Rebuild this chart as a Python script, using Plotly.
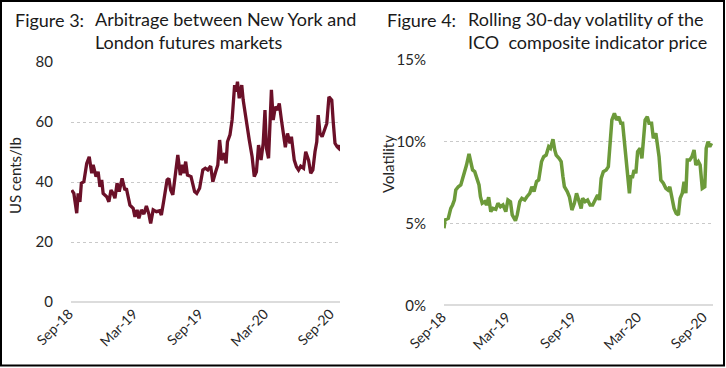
import plotly.graph_objects as go

# ---- Figure 3 data: arbitrage NY - London (US cents/lb)
arb_dates = ["2018-09-03","2018-09-09","2018-09-17","2018-09-21","2018-09-26","2018-09-30","2018-10-07","2018-10-15","2018-10-22","2018-10-29",
 "2018-11-02","2018-11-10","2018-11-16","2018-11-21","2018-11-26","2018-11-30","2018-12-10","2018-12-16","2018-12-22","2018-12-28",
 "2019-01-02","2019-01-08","2019-01-14","2019-01-22","2019-01-30","2019-02-03","2019-02-13","2019-02-22","2019-02-27","2019-03-05",
 "2019-03-10","2019-03-17","2019-03-24","2019-03-31","2019-04-07","2019-04-12","2019-04-19","2019-04-28","2019-05-07","2019-05-12",
 "2019-05-19","2019-05-28","2019-06-02","2019-06-07","2019-06-13","2019-06-20","2019-06-27","2019-07-04","2019-07-10","2019-07-14",
 "2019-07-19","2019-07-24","2019-08-03","2019-08-13","2019-08-19","2019-08-27","2019-09-05","2019-09-12","2019-09-19","2019-09-27",
 "2019-10-03","2019-10-11","2019-10-17","2019-10-22","2019-10-28","2019-11-05","2019-11-09","2019-11-13","2019-11-20","2019-11-26",
 "2019-12-03","2019-12-07","2019-12-11","2019-12-16","2019-12-23","2019-12-27","2020-01-04","2020-01-13","2020-01-21","2020-01-27",
 "2020-02-02","2020-02-08","2020-02-15","2020-02-21","2020-02-26","2020-03-01","2020-03-07","2020-03-11","2020-03-15","2020-03-20",
 "2020-03-26","2020-04-01","2020-04-06","2020-04-12","2020-04-18","2020-04-23","2020-04-29","2020-05-06","2020-05-10","2020-05-18",
 "2020-05-24","2020-05-30","2020-06-05","2020-06-13","2020-06-19","2020-06-27","2020-07-03","2020-07-09","2020-07-15","2020-07-20",
 "2020-07-24","2020-07-29","2020-08-04","2020-08-11","2020-08-17","2020-08-23","2020-08-31","2020-09-04","2020-09-09","2020-09-15",
 "2020-09-20","2020-09-23"]
arb_values = [37.3,36.2,29.6,36.2,33.4,39.6,40.1,46.2,48.4,42.9,
 45.7,41.8,43.4,38.4,40.7,36.2,35.1,33.4,37.3,36.2,
 34.6,39.6,36.8,41.2,37.3,37.9,32.3,31.2,28.4,30.7,
 27.9,30.7,29.3,32.0,29.3,26.2,30.7,30.1,30.4,29.0,
 34.0,40.7,41.2,37.3,35.7,42.9,49.0,42.3,45.7,42.9,
 46.8,42.3,41.8,36.8,36.2,37.9,44.0,44.6,44.0,45.3,
 40.1,43.4,45.7,54.0,47.3,49.6,46.2,53.4,55.7,60.7,
 72.3,70.1,73.4,67.9,72.3,67.3,60.1,54.0,48.4,41.8,
 43.4,52.3,47.3,52.9,64.0,51.2,47.9,61.2,70.7,60.7,
 65.1,64.0,66.2,60.7,55.7,51.6,56.2,52.9,55.1,47.3,
 45.1,44.0,45.3,44.6,50.1,47.3,42.9,44.0,50.1,53.4,
 62.3,56.2,55.1,57.9,59.5,68.4,67.3,60.1,52.9,51.8,
 51.2,52.3]

# ---- Figure 4 data: rolling 30-day volatility (%)
vol_dates = ["2018-09-01","2018-09-04","2018-09-13","2018-09-20","2018-09-25","2018-09-30","2018-10-04","2018-10-11","2018-10-18","2018-10-22",
 "2018-10-28","2018-11-03","2018-11-10","2018-11-14","2018-11-20","2018-11-26","2018-12-01","2018-12-08","2018-12-12","2018-12-17",
 "2018-12-24","2018-12-29","2019-01-04","2019-01-10","2019-01-16","2019-01-24","2019-01-30","2019-02-06","2019-02-13","2019-02-21",
 "2019-02-27","2019-03-06","2019-03-11","2019-03-20","2019-03-25","2019-04-01","2019-04-07","2019-04-15","2019-04-21","2019-04-29",
 "2019-05-05","2019-05-11","2019-05-18","2019-05-24","2019-06-01","2019-06-07","2019-06-14","2019-06-21","2019-06-26","2019-07-03",
 "2019-07-08","2019-07-12","2019-07-20","2019-07-26","2019-07-31","2019-08-04","2019-08-12","2019-08-18","2019-08-25","2019-09-01",
 "2019-09-07","2019-09-13","2019-09-20","2019-09-24","2019-10-01","2019-10-08","2019-10-15","2019-10-22","2019-10-30","2019-11-05",
 "2019-11-10","2019-11-15","2019-11-21","2019-11-29","2019-12-05","2019-12-10","2019-12-15","2019-12-22","2019-12-28","2020-01-03",
 "2020-01-09","2020-01-14","2020-01-19","2020-01-24","2020-01-28","2020-02-02","2020-02-06","2020-02-11","2020-02-15","2020-02-20",
 "2020-02-25","2020-03-03","2020-03-08","2020-03-12","2020-03-17","2020-03-23","2020-03-28","2020-04-04","2020-04-09","2020-04-16",
 "2020-04-20","2020-04-25","2020-04-30","2020-05-07","2020-05-14","2020-05-20","2020-05-25","2020-05-31","2020-06-06","2020-06-12",
 "2020-06-18","2020-06-23","2020-06-29","2020-07-04","2020-07-09","2020-07-13","2020-07-20","2020-07-26","2020-08-01","2020-08-06",
 "2020-08-13","2020-08-18","2020-08-24","2020-08-31","2020-09-04","2020-09-09","2020-09-14","2020-09-19"]
vol_values = [4.70,5.20,5.30,5.91,6.12,6.42,7.03,7.23,7.34,7.64,
 8.05,8.55,9.23,8.86,8.25,8.15,7.74,7.34,6.62,6.22,
 6.32,6.12,6.59,5.71,5.91,5.85,6.22,6.01,6.12,5.71,
 6.42,6.32,5.51,5.16,5.51,6.32,6.52,6.42,6.62,6.83,
 7.23,6.93,7.54,7.64,8.76,9.06,9.16,9.67,9.57,10.12,
 9.47,9.16,8.96,8.76,7.84,7.23,6.93,6.62,5.81,6.22,
 6.83,6.42,5.91,6.52,6.32,6.42,6.12,6.12,6.42,6.73,
 6.42,7.74,8.15,8.25,8.45,9.88,11.30,11.71,11.30,11.50,
 11.10,11.10,9.88,8.86,8.25,6.83,7.84,7.84,8.25,8.05,
 9.37,9.57,8.96,9.88,11.30,11.50,11.10,11.10,10.18,10.49,
 9.88,9.06,7.64,7.44,7.13,7.03,7.23,6.42,5.91,5.61,
 5.51,6.52,6.83,7.54,6.83,8.86,8.86,9.06,9.47,8.55,
 8.76,8.55,7.13,7.23,9.57,9.98,9.67,9.88]

tick_dates = ["2018-09-01","2019-03-01","2019-09-01","2020-03-01","2020-09-01"]
tick_labels = ["Sep-18","Mar-19","Sep-19","Mar-20","Sep-20"]
arb_ticks = [0, 20, 40, 60, 80]
arb_tick_text = ["0", "20", "40", "60", "80"]
vol_ticks = [0, 5, 10, 15]
vol_tick_text = ["0%", "5%", "10%", "15%"]

W, H = 726, 368
def px(x): return x / W
def py(y): return 1 - y / H

FONT = "Lato"
TXT = "#262626"

fig = go.Figure()
fig.add_trace(go.Scatter(x=arb_dates, y=arb_values, mode="lines",
                         line=dict(color="#6b1028", width=3.3), xaxis="x", yaxis="y",
                         showlegend=False))
fig.add_trace(go.Scatter(x=vol_dates, y=vol_values, mode="lines",
                         line=dict(color="#6c9a3a", width=3.5), xaxis="x2", yaxis="y2",
                         showlegend=False))

xcommon = dict(type="date", range=["2018-09-01", "2020-09-23"], tickmode="array",
               tickvals=tick_dates, ticktext=tick_labels, tickangle=-45, ticklabelshift=-2,
               showgrid=False, zeroline=False, showline=False, ticks="", automargin=False,
               tickfont=dict(family=FONT, size=14, color=TXT))
ycommon = dict(showgrid=True, gridcolor="#c9c9c9", griddash="dot", gridwidth=1.3,
               zeroline=True, zerolinecolor="#dcdcdc", zerolinewidth=2, automargin=False,
               showline=False, ticks="", tickfont=dict(family=FONT, size=15, color=TXT),
               ticklabelstandoff=17, tickmode="array")

fig.update_layout(
    width=W, height=H, margin=dict(l=0, r=0, t=0, b=0, pad=0, autoexpand=False),
    paper_bgcolor="white", plot_bgcolor="white",
    xaxis=dict(domain=[px(71), px(340)], anchor="y", **xcommon),
    yaxis=dict(domain=[py(302), py(62)], anchor="x", range=[0, 80],
               tickvals=arb_ticks, ticktext=arb_tick_text, **ycommon),
    xaxis2=dict(domain=[px(444), px(713)], anchor="y2", **xcommon),
    yaxis2=dict(domain=[py(305.3), py(59.3)], anchor="x2", range=[0, 15],
                tickvals=vol_ticks, ticktext=vol_tick_text, **ycommon),
)

ann = []
tfont = dict(family=FONT, size=18, color="#1a1a1a")
ann.append(dict(x=px(13), y=py(20), xref="paper", yref="paper", xanchor="left", yanchor="middle",
                text="Figure 3:", showarrow=False, font=tfont))
ann.append(dict(x=px(93), y=py(31), xref="paper", yref="paper", xanchor="left", yanchor="middle",
                text="Arbitrage between New York and<br>London futures markets", align="left",
                showarrow=False, font=tfont))
ann.append(dict(x=px(385), y=py(20), xref="paper", yref="paper", xanchor="left", yanchor="middle",
                text="Figure 4:", showarrow=False, font=tfont))
ann.append(dict(x=px(466), y=py(31), xref="paper", yref="paper", xanchor="left", yanchor="middle",
                text="Rolling 30-day volatility of the<br>ICO  composite indicator price", align="left",
                showarrow=False, font=tfont))
afont = dict(family=FONT, size=15, color=TXT)
ann.append(dict(x=px(15), y=py(176), xref="paper", yref="paper", xanchor="center", yanchor="middle",
                text="US cents/lb", textangle=-90, showarrow=False, font=afont))
ann.append(dict(x=px(388), y=py(164), xref="paper", yref="paper", xanchor="center", yanchor="middle",
                text="Volatility", textangle=-90, showarrow=False, font=afont))
fig.update_layout(annotations=ann)

# outer frame
fig.add_shape(type="rect", xref="paper", yref="paper",
              x0=px(1), x1=px(724), y0=py(365.5), y1=py(1),
              line=dict(color="black", width=2), fillcolor="rgba(0,0,0,0)")

fig.write_html("out.html", config={"displayModeBar": False},
               post_script="document.body.style.margin='0';document.body.style.overflow='hidden';")
